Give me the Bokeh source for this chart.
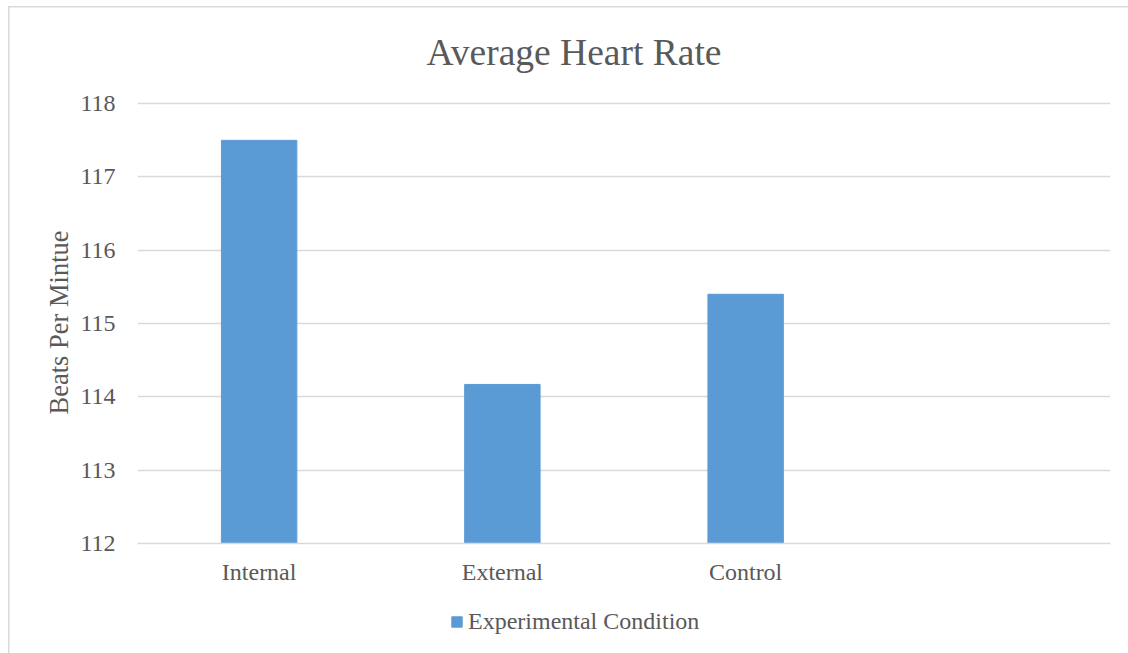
from bokeh.plotting import figure
from bokeh.models import Range1d, Legend, LegendItem, ColumnDataSource
from bokeh.layouts import column
from bokeh.embed import file_html
from bokeh.resources import INLINE

categories = ["Internal", "External", "Control", " "]
bar_cats = ["Internal", "External", "Control"]
heart_rate = [117.5, 114.17, 115.4]
y_ticks = [112, 113, 114, 115, 116, 117, 118]
series_name = "Experimental Condition"

FONT = "Liberation Serif"
TXT = "#595959"
GRID = "#d9d9d9"
BAR = "#5b9bd5"

src = ColumnDataSource(dict(cat=bar_cats, val=heart_rate))

p = figure(width=1128, height=590, x_range=categories, y_range=Range1d(112, 118.03),
           output_backend="svg", toolbar_location=None,
           min_border_left=137, min_border_right=18, min_border_top=101, min_border_bottom=47)

r = p.vbar(x="cat", top="val", bottom=112, width=0.31, source=src, color=BAR)

p.title.text = "Average Heart Rate"
p.title.align = "left"
p.title.offset = 289
p.title.text_font = FONT
p.title.text_font_size = "37.5px"
p.title.text_font_style = "normal"
p.title.text_color = TXT
p.title.standoff = 57

p.outline_line_color = None
p.border_fill_color = None
p.background_fill_color = None
p.xgrid.grid_line_color = None
p.ygrid.grid_line_color = GRID
p.ygrid.grid_line_width = 1.5
p.yaxis.ticker = y_ticks

for ax in (p.xaxis[0], p.yaxis[0]):
    ax.major_tick_line_color = None
    ax.minor_tick_line_color = None
    ax.major_label_text_font = FONT
    ax.major_label_text_font_size = "24px"
    ax.major_label_text_color = TXT
    ax.axis_label_text_font = FONT
    ax.axis_label_text_font_style = "normal"
    ax.axis_label_text_color = TXT

p.yaxis.axis_line_color = None
p.yaxis.major_label_standoff = 16
p.yaxis.axis_label = "Beats Per Mintue"
p.yaxis.axis_label_text_font_size = "26.5px"
p.yaxis.axis_label_standoff = 3
p.xaxis.axis_line_color = GRID
p.xaxis.axis_line_width = 1.5
p.xaxis.major_label_standoff = 9

# legend strip below the chart (its frame is aligned with the chart's frame)
lf = figure(width=1128, height=63, x_range=Range1d(0, 1), y_range=Range1d(0, 1),
            output_backend="svg", toolbar_location=None, min_border=0,
            x_axis_location=None, y_axis_location=None)
lf.outline_line_color = None
lf.border_fill_color = None
lf.background_fill_color = None
lf.xgrid.grid_line_color = None
lf.ygrid.grid_line_color = None
# off-view proxy renderer used only for the legend swatch
lr = lf.vbar(x=[-5], top=[-5], bottom=[-6], width=0.3, color=BAR)

legend = Legend(items=[LegendItem(label=series_name, renderers=[lr])],
                orientation="horizontal", location=(313, 18),
                label_text_font=FONT, label_text_font_size="24px", label_text_color=TXT,
                glyph_width=13, glyph_height=13, border_line_color=None,
                background_fill_alpha=0, label_standoff=5, padding=0, margin=0)
lf.add_layout(legend, "center")

layout = column(p, lf, spacing=0)
layout.styles = {
    "background": "linear-gradient(#d9d9d9,#d9d9d9) 8px 6px / 1.5px 100% no-repeat, "
                  "linear-gradient(#d9d9d9,#d9d9d9) 8px 6px / 100% 1.5px no-repeat, #ffffff",
}

open("out.html", "w").write(file_html(layout, INLINE))
